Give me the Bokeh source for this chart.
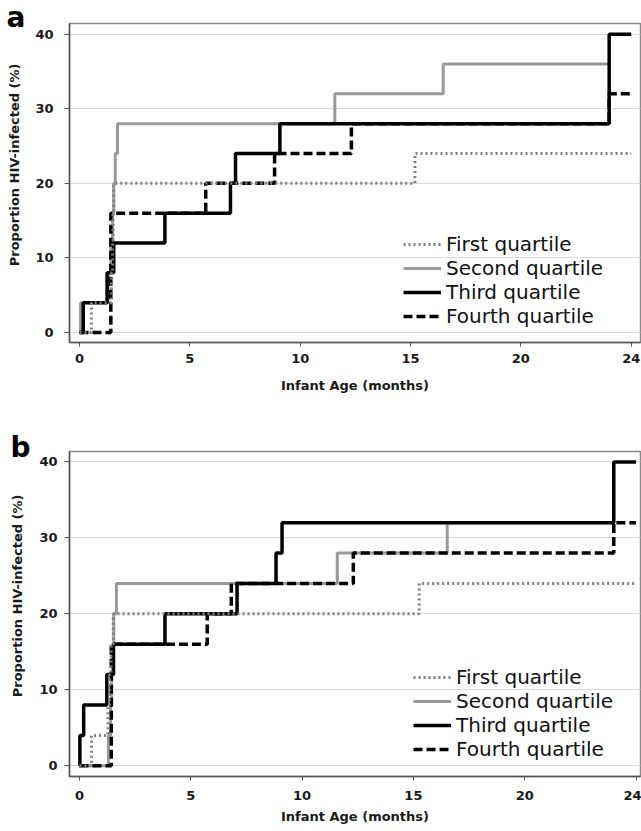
from bokeh.plotting import figure
from bokeh.models import Legend, LegendItem, FixedTicker, Title
from bokeh.layouts import column
from bokeh.embed import file_html
from bokeh.resources import INLINE

# ---------------- data ----------------
x_ticks = [0, 5, 10, 15, 20, 25]
x_tick_labels = ["0", "5", "10", "15", "20", "24"]
y_ticks = [0, 10, 20, 30, 40]
series_names = ["First quartile", "Second quartile", "Third quartile", "Fourth quartile"]

# Panel a
a_first_x = [0, 0.54, 1.45, 1.5, 1.52, 1.55, 15.2, 25.0]
a_first_y = [0, 4, 8, 12, 16, 20, 24, 24]
a_second_x = [0, 0.05, 1.3, 1.42, 1.5, 1.55, 1.62, 1.72, 11.57, 16.48, 24.0]
a_second_y = [0, 4, 8, 12, 16, 20, 24, 28, 32, 36, 36]
a_third_x = [0, 0.17, 1.25, 1.55, 3.87, 6.84, 7.07, 9.08, 24.0, 25.0]
a_third_y = [0, 4, 8, 12, 16, 20, 24, 28, 40, 40]
a_fourth_x = [0, 1.42, 5.72, 8.84, 12.32, 24.0, 25.0]
a_fourth_y = [0, 16, 20, 24, 28, 32, 32]

# Panel b
b_first_x = [0, 0.54, 1.28, 1.35, 1.42, 1.52, 15.26, 25.0]
b_first_y = [0, 4, 8, 12, 16, 20, 24, 24]
b_second_x = [0, 1.3, 1.4, 1.45, 1.5, 1.54, 1.66, 11.58, 16.52, 24.0]
b_second_y = [0, 4, 8, 12, 16, 20, 24, 28, 32, 32]
b_third_x = [0, 0.02, 0.19, 1.23, 1.53, 3.84, 7.08, 8.83, 9.1, 24.0, 25.0]
b_third_y = [0, 4, 8, 12, 16, 20, 24, 28, 32, 40, 40]
b_fourth_x = [0, 1.43, 5.74, 6.82, 12.3, 24.0, 25.0]
b_fourth_y = [0, 16, 20, 24, 28, 32, 32]

# ---------------- styles ----------------
STYLES = {
    "First quartile": dict(line_color="#7f7f7f", line_width=3, line_dash="2 3"),
    "Second quartile": dict(line_color="#999999", line_width=3),
    "Third quartile": dict(line_color="#000000", line_width=3.5),
    "Fourth quartile": dict(line_color="#000000", line_width=3.5, line_dash="9 4"),
}


def make_panel(letter, data, height, x_range, y_range, borders, tick_standoffs, label_standoffs,
               legend_loc, letter_offset, letter_standoff):
    left, top, bottom = borders
    p = figure(width=641, height=height, x_range=x_range, y_range=y_range,
               output_backend="svg", toolbar_location=None,
               min_border_left=left, min_border_right=1, min_border_top=top,
               min_border_bottom=bottom, background_fill_color="white",
               border_fill_color="white")
    p.outline_line_color = "#8a8a8a"
    p.outline_line_width = 1.5
    p.xgrid.visible = False
    p.ygrid.grid_line_color = "#d9d9d9"
    p.ygrid.grid_line_width = 1

    p.xaxis.ticker = FixedTicker(ticks=x_ticks)
    p.xaxis.major_label_overrides = {t: l for t, l in zip(x_ticks, x_tick_labels)}
    p.yaxis.ticker = FixedTicker(ticks=y_ticks)

    for ax in (p.xaxis[0], p.yaxis[0]):
        ax.axis_line_color = "#555555"
        ax.axis_line_width = 1.5
        ax.major_tick_line_color = "#555555"
        ax.major_tick_in = 0
        ax.minor_tick_line_color = None
        ax.major_label_text_font = "DejaVu Sans"
        ax.major_label_text_font_style = "bold"
        ax.major_label_text_font_size = "13px"
        ax.major_label_text_color = "#1a1a1a"
        ax.axis_label_text_font = "DejaVu Sans"
        ax.axis_label_text_font_style = "bold"
        ax.axis_label_text_font_size = "13px"
        ax.axis_label_text_color = "#1a1a1a"
    p.xaxis.major_tick_out = 4
    p.yaxis.major_tick_out = 5
    p.xaxis.major_label_standoff = tick_standoffs[0]
    p.yaxis.major_label_standoff = tick_standoffs[1]
    p.xaxis.axis_label_standoff = label_standoffs[0]
    p.yaxis.axis_label_standoff = label_standoffs[1]
    p.xaxis.axis_label = "Infant Age (months)"
    p.yaxis.axis_label = "\u00a0" * 8 + "Proportion HIV-infected (%)"

    renderers = {}
    order = ["Second quartile", "Third quartile", "Fourth quartile", "First quartile"]
    for name in order:
        xs, ys = data[name]
        renderers[name] = p.step(xs, ys, mode="after", **STYLES[name])

    legend = Legend(items=[LegendItem(label=n, renderers=[renderers[n]]) for n in series_names],
                    location=legend_loc, padding=0, margin=0, spacing=0,
                    glyph_width=38, glyph_height=24, label_height=24, label_standoff=5,
                    label_text_font="DejaVu Sans", label_text_font_size="20px",
                    label_text_color="#111111",
                    background_fill_alpha=0, border_line_alpha=0)
    p.add_layout(legend, "center")

    p.add_layout(Title(text=letter, align="left", standoff=letter_standoff, offset=letter_offset,
                       text_font="DejaVu Sans", text_font_style="bold",
                       text_font_size="28px", text_color="#000000"), "above")
    return p


pa = make_panel("a",
                {"First quartile": (a_first_x, a_first_y),
                 "Second quartile": (a_second_x, a_second_y),
                 "Third quartile": (a_third_x, a_third_y),
                 "Fourth quartile": (a_fourth_x, a_fourth_y)},
                height=420, x_range=(-0.453, 25.42), y_range=(-1.34, 41.43),
                borders=(69, 23, 78), tick_standoffs=(7, 11), label_standoffs=(12, 10),
                legend_loc=(334, 14), letter_offset=-63, letter_standoff=-21)

pb = make_panel("b",
                {"First quartile": (b_first_x, b_first_y),
                 "Second quartile": (b_second_x, b_second_y),
                 "Third quartile": (b_third_x, b_third_y),
                 "Fourth quartile": (b_fourth_x, b_fourth_y)},
                height=411, x_range=(-0.447, 25.2), y_range=(-1.41, 41.37),
                borders=(66, 31, 55), tick_standoffs=(10, 7), label_standoffs=(6, 11),
                legend_loc=(344, 15), letter_offset=-59, letter_standoff=-25)

layout = column(pa, pb, spacing=0)

with open("out.html", "w") as f:
    f.write(file_html(layout, INLINE))
